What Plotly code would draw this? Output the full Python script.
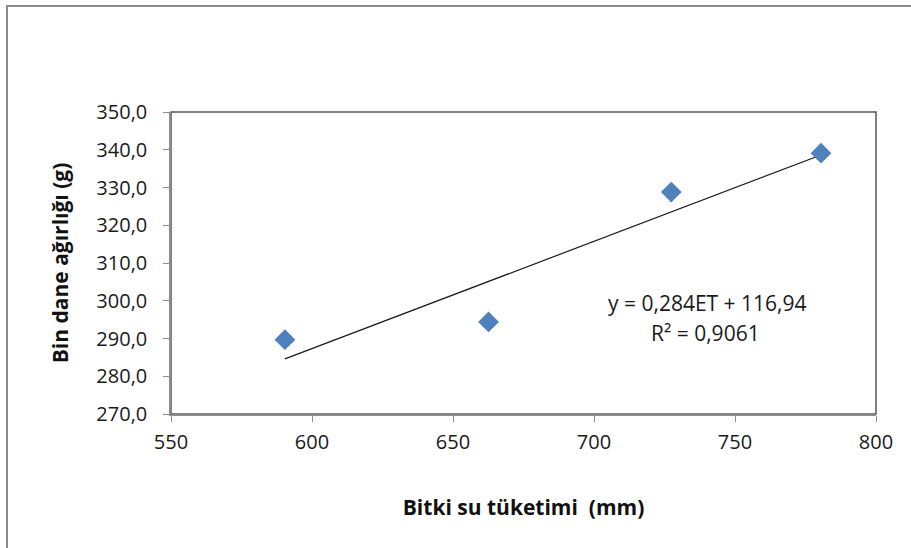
import plotly.graph_objects as go

et_mm = [590.4, 662.6, 727.4, 780.5]
bin_dane_g = [289.7, 294.4, 328.8, 339.1]
trend_slope = 0.284
trend_intercept = 116.94
x_ticks = [550, 600, 650, 700, 750, 800]
y_ticks = [270, 280, 290, 300, 310, 320, 330, 340, 350]

W, H = 911, 548
L, R, T, B = 171, 35, 112, 134
pw, ph = W - L - R, H - T - B

trend_x = [min(et_mm), max(et_mm)]
trend_y = [trend_slope * v + trend_intercept for v in trend_x]

fig = go.Figure()
fig.add_trace(go.Scatter(x=trend_x, y=trend_y, mode="lines",
                         line=dict(color="#1a1a1a", width=1.2), showlegend=False))
fig.add_trace(go.Scatter(x=et_mm, y=bin_dane_g, mode="markers",
                         marker=dict(symbol="diamond", size=16, color="#4F81BD",
                                     line=dict(width=0)), showlegend=False))

font = "Open Sans, Noto Sans, sans-serif"
axis_common = dict(showgrid=False, zeroline=False, showline=True, linecolor="#8c8c8c",
                   linewidth=1.5, mirror=False, ticks="outside", ticklen=6,
                   tickcolor="#8c8c8c", tickwidth=1.2,
                   tickfont=dict(family=font, size=20, color="#1a1a1a"))

fig.update_xaxes(range=[550, 800], tickvals=x_ticks, ticktext=[str(v) for v in x_ticks],
                 ticklabelstandoff=3,
                 title=dict(text="<b>Bitki su tüketimi\u00a0\u00a0(mm)</b>", standoff=47,
                            font=dict(family=font, size=21, color="#111")),
                 **axis_common)
fig.update_yaxes(range=[270, 350], tickvals=y_ticks,
                 ticktext=[f"{v},0" for v in y_ticks],
                 ticklabelstandoff=12,
                 title=dict(text="<b>Bin dane ağırlığı (g)</b>", standoff=22,
                            font=dict(family=font, size=21, color="#111")),
                 **axis_common)

fig.add_annotation(x=740.4, y=(414 - 303) / ph * 80 + 270, xref="x", yref="y",
                   text="y = 0,284ET + 116,94", showarrow=False,
                   yanchor="middle", align="center",
                   font=dict(family=font, size=21, color="#1a1a1a"))
fig.add_annotation(x=739.7, y=(414 - 333) / ph * 80 + 270, xref="x", yref="y",
                   text="R² = 0,9061", showarrow=False,
                   yanchor="middle", align="center",
                   font=dict(family=font, size=21, color="#1a1a1a"))

# plot-area border (darker top/right)
fig.add_shape(type="rect", xref="paper", yref="paper", x0=0, x1=1, y0=0, y1=1,
              line=dict(color="#555555", width=1.5), fillcolor="rgba(0,0,0,0)",
              layer="below")
# outer chart frame
fig.add_shape(type="rect", xref="paper", yref="paper",
              x0=(7 - L) / pw, x1=(W + 40 - L) / pw,
              y0=(H - B - (H + 40)) / ph, y1=(H - B - 6) / ph,
              line=dict(color="#8c8c8c", width=2), fillcolor="rgba(0,0,0,0)",
              layer="below")

fig.update_layout(width=W, height=H, margin=dict(l=L, r=R, t=T, b=B),
                  paper_bgcolor="white", plot_bgcolor="white")
fig.write_html("out.html", config={"displayModeBar": False},
               post_script="document.body.style.margin='0px';")
